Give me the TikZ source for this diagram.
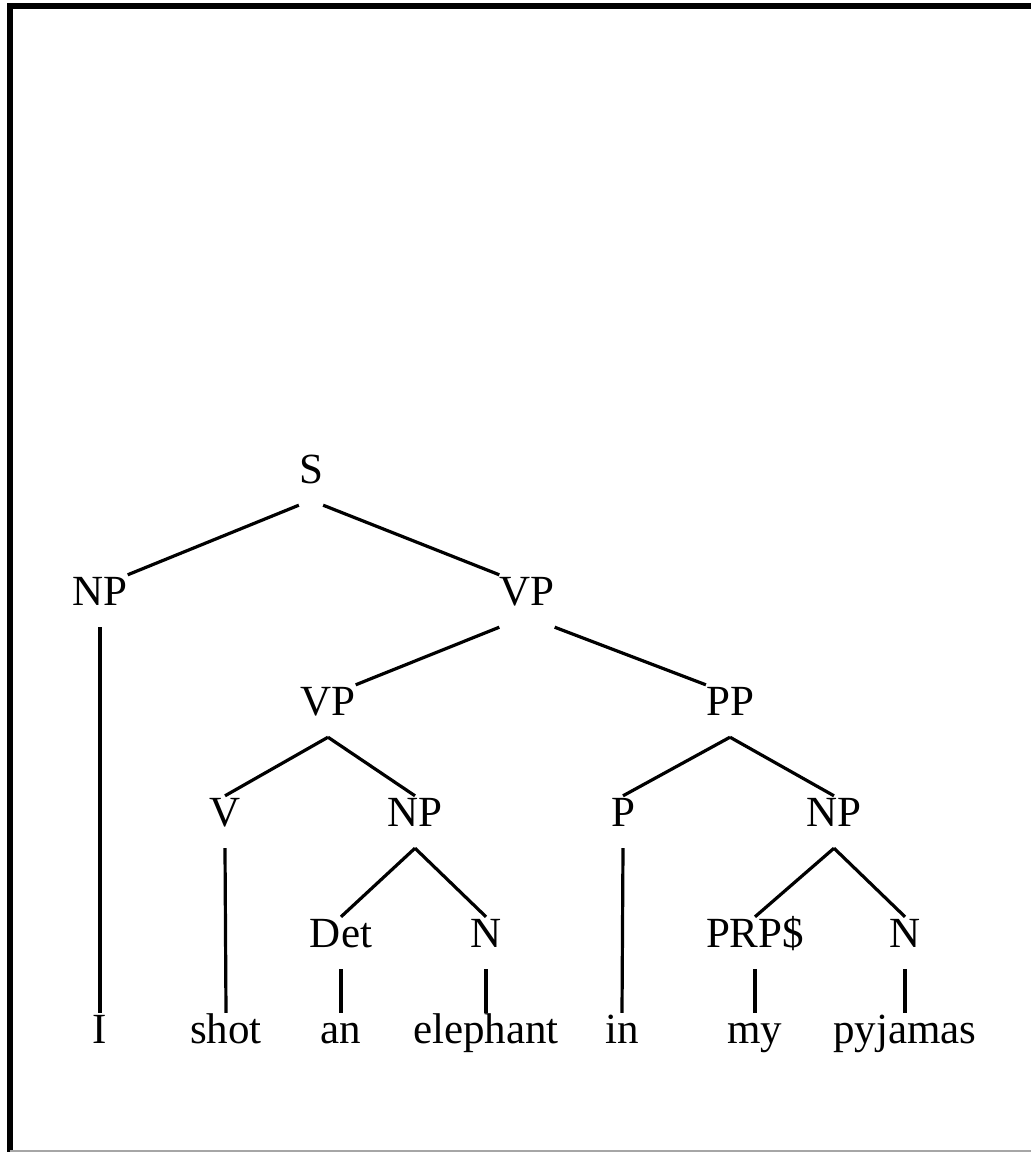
\documentclass[tikz,border=0pt]{standalone}
\usepackage{fontspec}
\setmainfont{Liberation Serif}
\begin{document}
\begin{tikzpicture}[x=1pt,y=-1pt,
  lbl/.style={anchor=base, font=\fontsize{43}{48}\selectfont, text height=8pt, text depth=0pt, inner ysep=22pt, inner xsep=0pt},
  edge/.style={line width=3.2pt}]
\useasboundingbox (0,0) rectangle (1031,1152);
% frame
\draw[line width=6pt] (10,1152) -- (10,5.5) -- (1031,5.5);
\draw[gray!70, line width=1.5pt] (10,1151) -- (1031,1151);
% internal labels
\node[lbl] (S)   at (311,483) {S};
\node[lbl] (NPa) at (100,605) {NP};
\node[lbl] (VPa) at (527,605) {VP};
\node[lbl] (VPb) at (328,715) {VP};
\node[lbl] (PP)  at (730,715) {PP};
\node[lbl] (V)   at (225,826) {V};
\node[lbl] (NPb) at (415,826) {NP};
\node[lbl] (P)   at (623,826) {P};
\node[lbl] (NPc) at (834,826) {NP};
\node[lbl] (Det) at (341,947) {Det};
\node[lbl] (Na)  at (486,947) {N};
\node[lbl] (PRP) at (755,947) {PRP\$};
\node[lbl] (Nb)  at (905,947) {N};
% leaves
\node[lbl] (wI)   at (100,1043) {I};
\node[lbl] (wshot) at (226,1043) {shot};
\node[lbl] (wan)  at (341,1043) {an};
\node[lbl] (wele) at (486,1043) {elephant};
\node[lbl] (win)  at (622,1043) {in};
\node[lbl] (wmy)  at (755,1043) {my};
\node[lbl] (wpyj) at (905,1043) {pyjamas};
% edges
\draw[edge] (S.south west) -- (NPa.north east);
\draw[edge] (S.south east) -- (VPa.north west);
\draw[edge] (VPa.south west) -- (VPb.north east);
\draw[edge] (VPa.south east) -- (PP.north west);
\draw[edge] (VPb.south) -- (V.north);
\draw[edge] (VPb.south) -- (NPb.north);
\draw[edge] (PP.south) -- (P.north);
\draw[edge] (PP.south) -- (NPc.north);
\draw[edge] (NPb.south) -- (Det.north);
\draw[edge] (NPb.south) -- (Na.north);
\draw[edge] (NPc.south) -- (PRP.north);
\draw[edge] (NPc.south) -- (Nb.north);
\draw[edge] (NPa.south) -- (wI.north);
\draw[edge] (V.south) -- (wshot.north);
\draw[edge] (Det.south) -- (wan.north);
\draw[edge] (Na.south) -- (wele.north);
\draw[edge] (P.south) -- (win.north);
\draw[edge] (PRP.south) -- (wmy.north);
\draw[edge] (Nb.south) -- (wpyj.north);
\end{tikzpicture}
\end{document}
